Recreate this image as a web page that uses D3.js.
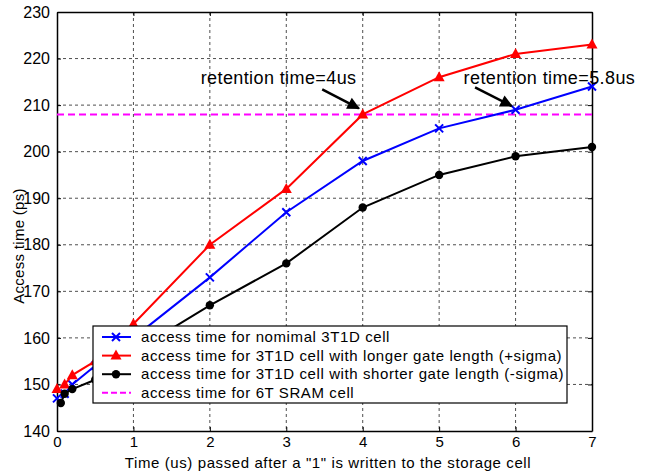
<!DOCTYPE html>
<html>
<head>
<meta charset="utf-8">
<script src="https://cdn.jsdelivr.net/npm/d3@7"></script>
<style>
  body { margin: 0; background: #fff; }
  text { font-family: "Liberation Sans", Arial, sans-serif; fill: #000; }
</style>
</head>
<body>
<div id="chart"></div>
<script>
// time after write (us); null where a series has no sample
const timesUs = [0, 0.05, 0.1, 0.2, 0.5, 1, 2, 3, 4, 5, 6, 7];

// access time (ps)
const nominal = [147, null, 148, 150, 154, 160, 173, 187, 198, 205, 209, 214];
const plusSigma = [149, null, 150, 152, 155, 163, 180, 192, 208, 216, 221, 223];
const minusSigma = [null, 146, 148, 149, 151, 157, 167, 176, 188, 195, 199, 201];
const sramAccess = 208;

const xTicks = [0, 1, 2, 3, 4, 5, 6, 7];
const yTicks = [140, 150, 160, 170, 180, 190, 200, 210, 220, 230];

const legendLabels = [
  'access time for nomimal 3T1D cell',
  'access time for 3T1D cell with longer gate length  (+sigma)',
  'access time for 3T1D cell with shorter gate length (-sigma)',
  'access time for 6T SRAM cell'
];

const notes = [
  { text: 'retention time=4us', tx: 1.88, ty: 214.6, from: [3.47, 213.4], to: [3.95, 209.3] },
  { text: 'retention time=5.8us', tx: 5.32, ty: 214.6, from: [5.47, 213.8], to: [5.95, 209.8] }
];

// chart geometry
const width = 650, height = 472;
const margin = {top: 12, right: 58, bottom: 41, left: 57};
const innerW = width - margin.left - margin.right;
const innerH = height - margin.top - margin.bottom;

const svg = d3.select('#chart').append('svg')
  .attr('width', width)
  .attr('height', height);

const g = svg.append('g')
  .attr('transform', 'translate(' + margin.left + ',' + margin.top + ')');

const xScale = d3.scaleLinear().domain([0, 7]).range([0, innerW]);
const yScale = d3.scaleLinear().domain([140, 230]).range([innerH, 0]);

// dashed grid
g.append('g').selectAll('line')
  .data(xTicks.slice(1, -1))
  .enter().append('line')
  .attr('x1', d => xScale(d)).attr('x2', d => xScale(d))
  .attr('y1', 0).attr('y2', innerH)
  .attr('stroke', '#222').attr('stroke-width', 0.8)
  .attr('stroke-dasharray', '3,3');

g.append('g').selectAll('line')
  .data(yTicks.slice(1, -1))
  .enter().append('line')
  .attr('x1', 0).attr('x2', innerW)
  .attr('y1', d => yScale(d)).attr('y2', d => yScale(d))
  .attr('stroke', '#222').attr('stroke-width', 0.8)
  .attr('stroke-dasharray', '3,3');

// axes, ticks pointing inward
const xAxis = g.append('g')
  .attr('transform', 'translate(0,' + innerH + ')')
  .call(d3.axisBottom(xScale).tickValues(xTicks).tickFormat(d3.format('d'))
    .tickSizeInner(-4).tickSizeOuter(0).tickPadding(5));
const yAxis = g.append('g')
  .call(d3.axisLeft(yScale).tickValues(yTicks).tickSizeInner(-4).tickSizeOuter(0).tickPadding(7));
g.append('g')
  .call(d3.axisTop(xScale).tickValues(xTicks).tickSizeInner(-4).tickSizeOuter(0).tickFormat(''));
g.append('g')
  .attr('transform', 'translate(' + innerW + ',0)')
  .call(d3.axisRight(yScale).tickValues(yTicks).tickSizeInner(-4).tickSizeOuter(0).tickFormat(''));

g.selectAll('.domain').attr('stroke', '#000').attr('stroke-width', 1.5);
g.selectAll('.tick line').attr('stroke', '#000');
xAxis.selectAll('text')
  .style('font-family', '"Liberation Sans", Arial, sans-serif')
  .style('font-size', '15px').attr('fill', '#000');
yAxis.selectAll('text')
  .style('font-family', '"Liberation Sans", Arial, sans-serif')
  .style('font-size', '16px').attr('fill', '#000');

// 6T SRAM reference line
g.append('line')
  .attr('x1', xScale(0)).attr('x2', xScale(7))
  .attr('y1', yScale(sramAccess)).attr('y2', yScale(sramAccess))
  .attr('stroke', '#ff00ff').attr('stroke-width', 2)
  .attr('stroke-dasharray', '7,4');

const series = [
  { values: nominal, color: '#0000ff', marker: 'x' },
  { values: plusSigma, color: '#ff0000', marker: 'tri' },
  { values: minusSigma, color: '#000000', marker: 'dot' }
];

const line = d3.line()
  .defined(d => d.v !== null)
  .x(d => xScale(d.t))
  .y(d => yScale(d.v));

function drawMarker(sel, kind, color) {
  if (kind === 'x') {
    sel.append('path').attr('d', 'M-4,-4L4,4M-4,4L4,-4')
      .attr('stroke', color).attr('stroke-width', 2).attr('fill', 'none');
  } else if (kind === 'tri') {
    sel.append('path').attr('d', 'M0,-6L5.5,4L-5.5,4Z').attr('fill', color);
  } else {
    sel.append('circle').attr('r', 4.2).attr('fill', color);
  }
}

series.forEach(s => {
  const pts = timesUs.map((t, i) => ({t: t, v: s.values[i]}));
  g.append('path')
    .datum(pts)
    .attr('fill', 'none')
    .attr('stroke', s.color)
    .attr('stroke-width', 2)
    .attr('d', line);
  g.append('g').selectAll('g')
    .data(pts.filter(d => d.v !== null))
    .enter().append('g')
    .attr('transform', d => 'translate(' + xScale(d.t) + ',' + yScale(d.v) + ')')
    .each(function() { drawMarker(d3.select(this), s.marker, s.color); });
});

// annotations with arrows
svg.append('defs').append('marker')
  .attr('id', 'head')
  .attr('viewBox', '0 0 10 10')
  .attr('refX', 9).attr('refY', 5)
  .attr('markerWidth', 6).attr('markerHeight', 5)
  .attr('orient', 'auto')
  .append('path').attr('d', 'M0,0L10,5L0,10Z').attr('fill', '#000');

notes.forEach(n => {
  g.append('text')
    .attr('x', xScale(n.tx)).attr('y', yScale(n.ty))
    .style('font-size', '18px')
    .style('letter-spacing', '0.4px')
    .text(n.text);
  g.append('line')
    .attr('x1', xScale(n.from[0])).attr('y1', yScale(n.from[1]))
    .attr('x2', xScale(n.to[0])).attr('y2', yScale(n.to[1]))
    .attr('stroke', '#000').attr('stroke-width', 2.5)
    .attr('marker-end', 'url(#head)');
});

// legend
const legend = svg.append('g').attr('transform', 'translate(93,326)');
legend.append('rect')
  .attr('width', 474).attr('height', 77)
  .attr('fill', '#fff').attr('stroke', '#000').attr('stroke-width', 1.2);

const legendItems = [
  { color: '#0000ff', marker: 'x', dash: null },
  { color: '#ff0000', marker: 'tri', dash: null },
  { color: '#000000', marker: 'dot', dash: null },
  { color: '#ff00ff', marker: null, dash: '6,3' }
];

legendLabels.forEach((label, i) => {
  const row = legend.append('g').attr('transform', 'translate(0,' + (11 + i * 18.6) + ')');
  const it = legendItems[i];
  row.append('line')
    .attr('x1', 9).attr('x2', 38)
    .attr('stroke', it.color).attr('stroke-width', 2)
    .attr('stroke-dasharray', it.dash);
  if (it.marker) {
    const m = row.append('g').attr('transform', 'translate(23,0)');
    drawMarker(m, it.marker, it.color);
  }
  row.append('text')
    .attr('x', 48).attr('y', 5)
    .style('font-size', '15px')
    .style('letter-spacing', '0.6px')
    .text(label);
});

// axis titles
svg.append('text')
  .attr('x', 328).attr('y', 468)
  .attr('text-anchor', 'middle')
  .style('font-size', '15px')
  .style('letter-spacing', '0.6px')
  .text('Time (us) passed after a "1"  is written to the storage cell');

svg.append('text')
  .attr('transform', 'translate(24,246) rotate(-90)')
  .attr('text-anchor', 'middle')
  .style('font-size', '15px')
  .style('letter-spacing', '0.3px')
  .text('Access time (ps)');
</script>
</body>
</html>
